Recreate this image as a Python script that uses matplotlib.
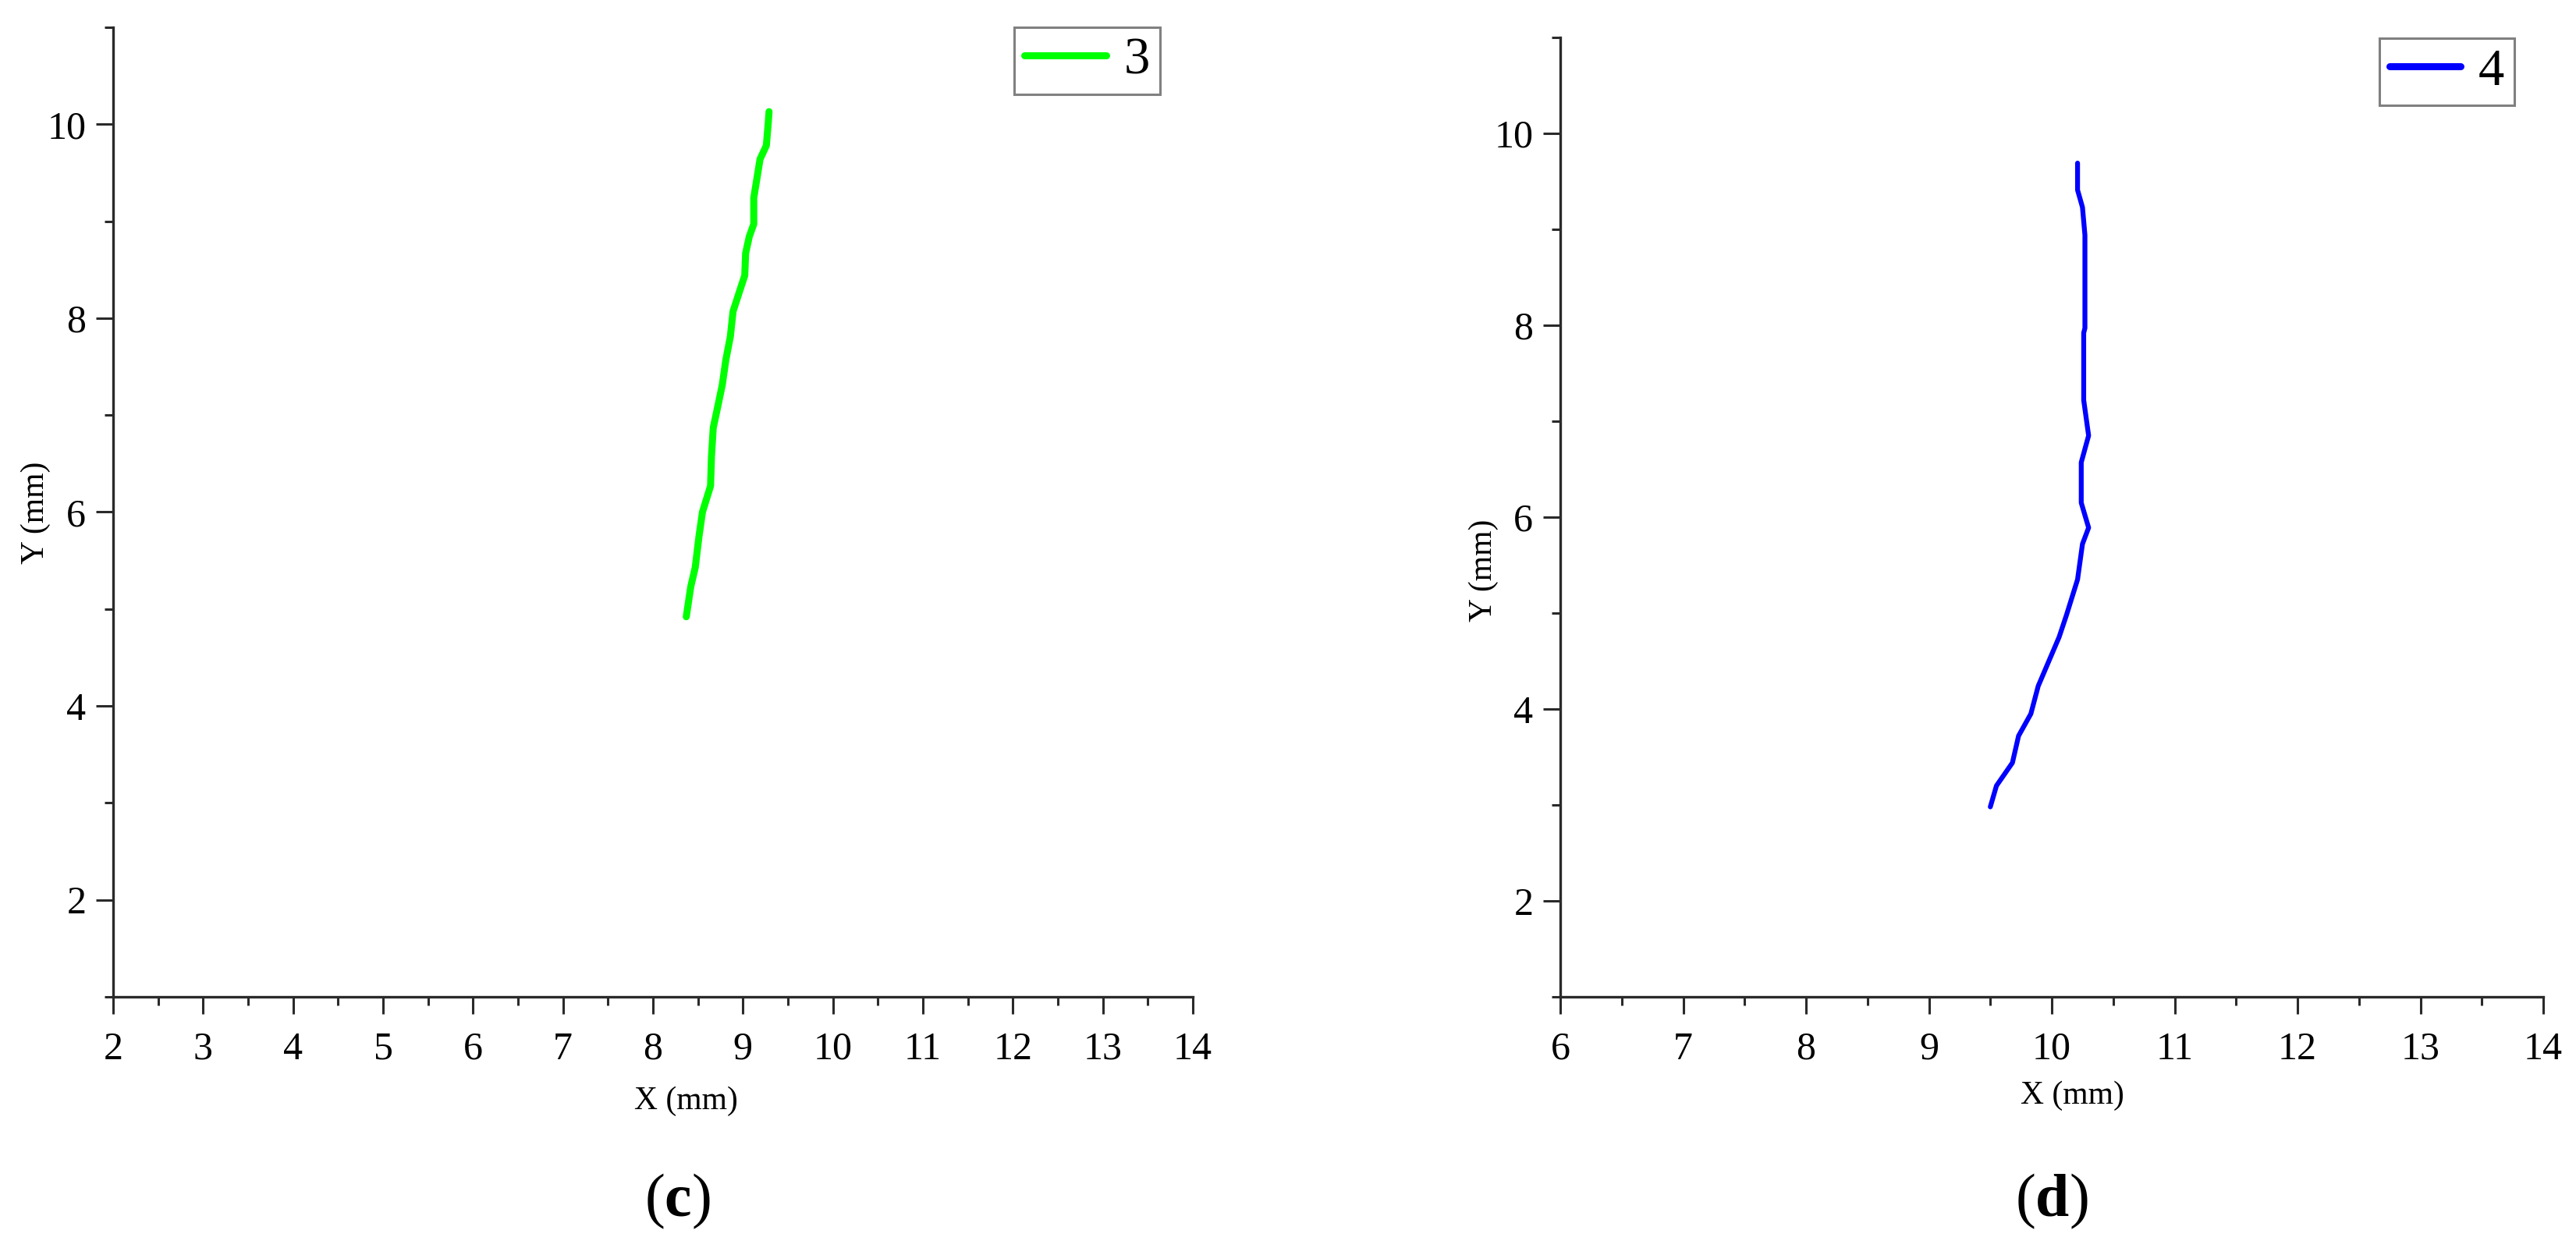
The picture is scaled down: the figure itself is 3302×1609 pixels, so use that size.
import matplotlib
matplotlib.use("Agg")
import matplotlib.pyplot as plt
from matplotlib.ticker import MultipleLocator

plt.rcParams['font.family'] = ['Liberation Serif', 'DejaVu Serif']
plt.rcParams['mathtext.fontset'] = 'custom'
plt.rcParams['mathtext.rm'] = 'Liberation Serif'
plt.rcParams['mathtext.bf'] = 'Liberation Serif:bold'

# trajectory 3 (green), bottom to top
green_x = [8.37, 8.42, 8.47, 8.51, 8.55, 8.64, 8.65, 8.67, 8.70, 8.77, 8.81, 8.86,
           8.89, 8.96, 9.02, 9.03, 9.07, 9.12, 9.12, 9.15, 9.19, 9.26, 9.28, 9.29]
green_y = [4.92, 5.23, 5.43, 5.74, 6.00, 6.27, 6.57, 6.87, 7.00, 7.31, 7.57, 7.81,
           8.07, 8.27, 8.44, 8.67, 8.84, 8.97, 9.24, 9.41, 9.64, 9.78, 10.00, 10.13]

# trajectory 4 (blue)
blue_x = [9.50, 9.55, 9.68, 9.73, 9.83, 9.89, 9.98, 10.06, 10.12, 10.21, 10.25,
          10.30, 10.24, 10.24, 10.30, 10.26, 10.26, 10.27, 10.27, 10.25, 10.21, 10.21]
blue_y = [2.98, 3.20, 3.44, 3.72, 3.95, 4.24, 4.51, 4.75, 4.98, 5.35, 5.72,
          5.89, 6.15, 6.57, 6.85, 7.22, 7.92, 7.97, 8.94, 9.23, 9.41, 9.69]

xticks_c = list(range(2, 15))
xticks_d = list(range(6, 15))
yticks = [2, 4, 6, 8, 10]

W, H = 3302, 1609
fig = plt.figure(figsize=(W / 100, H / 100), dpi=100)


def px(x0, y0, x1, y1):
    # pixel box -> figure rect
    return [x0 / W, 1 - y1 / H, (x1 - x0) / W, (y1 - y0) / H]


def style_axes(ax, xlim, xt):
    ax.set_xlim(*xlim)
    ax.set_ylim(1, 11)
    ax.set_xticks(xt)
    ax.set_yticks(yticks)
    ax.xaxis.set_minor_locator(MultipleLocator(0.5))
    ax.yaxis.set_minor_locator(MultipleLocator(1))
    for s in ['top', 'right']:
        ax.spines[s].set_visible(False)
    for s in ['left', 'bottom']:
        ax.spines[s].set_linewidth(2.4)
        ax.spines[s].set_color('#2a2a2a')
    ax.tick_params(which='major', length=16, width=2.2, color='#2a2a2a', labelsize=36)
    ax.tick_params(which='minor', length=8, width=2.2, color='#2a2a2a')
    ax.tick_params(axis='x', which='major', pad=16)
    ax.tick_params(axis='y', which='major', pad=9)


def add_legend(ax, corner, hl):
    leg = ax.legend(loc='upper right', bbox_to_anchor=(corner[0] / W, 1 - corner[1] / H),
                    bbox_transform=fig.transFigure, fontsize=48, handlelength=hl,
                    handletextpad=0.35, borderpad=0.19, borderaxespad=0,
                    fancybox=False, framealpha=1, edgecolor='#808080')
    leg.get_frame().set_linewidth(2.2)
    leg.get_lines()[0].set_linewidth(6.5)
    return leg


ax1 = fig.add_axes(px(145, 35, 1529, 1278))
ax1.plot(green_x, green_y, color='#00ff00', lw=6.5, solid_capstyle='round',
         solid_joinstyle='round', label='3')
style_axes(ax1, (2, 14), xticks_c)
add_legend(ax1, (1487, 35), 1.57)

ax2 = fig.add_axes(px(2000, 48, 3260, 1278))
ax2.plot(blue_x, blue_y, color='#0000ff', lw=4.5, solid_capstyle='round',
         solid_joinstyle='round', label='4')
style_axes(ax2, (6, 14), xticks_d)
add_legend(ax2, (3223, 49), 1.36)

# axis labels
fig.text(46 / W, 1 - 657 / H, 'Y (mm)', rotation=90, ha='center', va='center', fontsize=30)
fig.text(1902 / W, 1 - 731 / H, 'Y (mm)', rotation=90, ha='center', va='center', fontsize=30)
fig.text(879 / W, 1 - 1412 / H, 'X (mm)', ha='center', va='center', fontsize=30)
fig.text(2656 / W, 1 - 1405 / H, 'X (mm)', ha='center', va='center', fontsize=30)

# panel letters
fig.text(868 / W, 1 - 1540 / H, r'($\mathbf{c}$)', ha='center', va='center', fontsize=56)
fig.text(2630 / W, 1 - 1540 / H, r'($\mathbf{d}$)', ha='center', va='center', fontsize=56)

fig.savefig('out.png', dpi=100)
